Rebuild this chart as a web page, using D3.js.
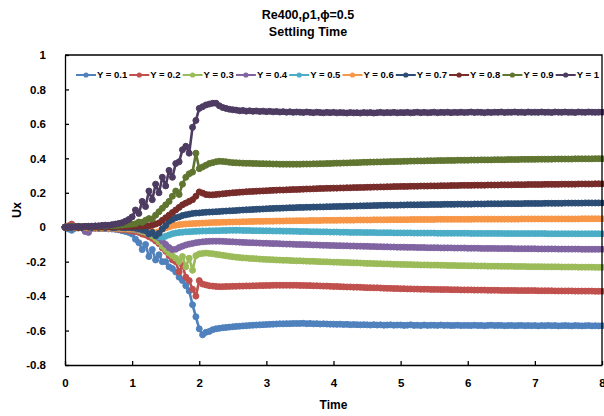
<!DOCTYPE html>
<html>
<head>
<meta charset="utf-8">
<script src="https://cdn.jsdelivr.net/npm/d3@7"></script>
<style>
  body { margin: 0; background: #fff; }
  svg { display: block; }
  text { font-family: "Liberation Sans", Arial, sans-serif; font-weight: bold; fill: #000; }
</style>
</head>
<body>
<svg id="chart" width="604" height="416"></svg>
<script>
// Streamwise velocity Ux sampled every 0.05 time units (t = 0 ... 8) at ten heights Y.
const dt = 0.05;

const ux01 = [
  0, -0.01, -0.018, -0.006, -0.004, -0.003, -0.005, -0.004, -0.006, -0.005,
  -0.006, -0.008, -0.007, -0.009, -0.01, -0.012, -0.015, -0.02, -0.025, -0.03,
  -0.04, -0.07, -0.09, -0.13, -0.1, -0.17, -0.13, -0.19, -0.16, -0.2,
  -0.2, -0.23, -0.24, -0.26, -0.29, -0.31, -0.34, -0.37, -0.45, -0.52,
  -0.59, -0.625, -0.61, -0.605, -0.595, -0.59, -0.587, -0.584, -0.582, -0.58,
  -0.578, -0.576, -0.575, -0.573, -0.572, -0.57, -0.569, -0.568, -0.567, -0.566,
  -0.565, -0.564, -0.563, -0.562, -0.561, -0.561, -0.56, -0.56, -0.559, -0.559,
  -0.559, -0.558, -0.56, -0.559, -0.561, -0.56, -0.562, -0.561, -0.562, -0.563,
  -0.563, -0.564, -0.563, -0.565, -0.564, -0.566, -0.565, -0.566, -0.567, -0.566,
  -0.567, -0.568, -0.566, -0.568, -0.567, -0.569, -0.568, -0.567, -0.569, -0.568,
  -0.568, -0.57, -0.569, -0.567, -0.57, -0.569, -0.571, -0.568, -0.57, -0.569,
  -0.569, -0.57, -0.568, -0.57, -0.569, -0.571, -0.57, -0.569, -0.571, -0.57,
  -0.57, -0.571, -0.569, -0.571, -0.57, -0.572, -0.57, -0.569, -0.571, -0.57,
  -0.57, -0.572, -0.571, -0.57, -0.572, -0.571, -0.57, -0.572, -0.571, -0.572,
  -0.571, -0.573, -0.571, -0.572, -0.57, -0.572, -0.571, -0.573, -0.572, -0.571,
  -0.572, -0.573, -0.571, -0.572, -0.573, -0.572, -0.571, -0.573, -0.572, -0.573,
  -0.572
];

const ux02 = [
  0, 0.008, 0.018, 0.004, -0.002, -0.004, -0.003, -0.005, -0.004, -0.006,
  -0.005, -0.007, -0.006, -0.008, -0.009, -0.01, -0.012, -0.014, -0.016, -0.02,
  -0.022, -0.025, -0.03, -0.04, -0.045, -0.055, -0.065, -0.08, -0.095, -0.12,
  -0.14, -0.165, -0.19, -0.2, -0.26, -0.22, -0.29, -0.31, -0.36, -0.4,
  -0.31, -0.33, -0.335, -0.34, -0.342, -0.344, -0.345, -0.345, -0.344, -0.344,
  -0.343, -0.343, -0.342, -0.342, -0.341, -0.341, -0.34, -0.34, -0.339, -0.339,
  -0.338, -0.338, -0.337, -0.337, -0.337, -0.337, -0.337, -0.337, -0.337, -0.337,
  -0.338, -0.338, -0.339, -0.339, -0.34, -0.34, -0.341, -0.342, -0.342, -0.343,
  -0.344, -0.344, -0.345, -0.346, -0.347, -0.347, -0.348, -0.348, -0.349, -0.35,
  -0.351, -0.351, -0.352, -0.352, -0.353, -0.354, -0.355, -0.355, -0.356, -0.356,
  -0.357, -0.357, -0.358, -0.358, -0.359, -0.359, -0.36, -0.36, -0.36, -0.361,
  -0.361, -0.361, -0.362, -0.362, -0.362, -0.363, -0.363, -0.363, -0.364, -0.364,
  -0.364, -0.364, -0.365, -0.365, -0.365, -0.365, -0.366, -0.366, -0.366, -0.366,
  -0.367, -0.367, -0.367, -0.367, -0.367, -0.368, -0.368, -0.368, -0.368, -0.368,
  -0.368, -0.369, -0.369, -0.369, -0.369, -0.369, -0.37, -0.37, -0.37, -0.37,
  -0.37, -0.37, -0.371, -0.371, -0.371, -0.371, -0.371, -0.371, -0.372, -0.372,
  -0.372
];

const ux03 = [
  0, -0.003, 0.001, -0.002, -0.004, -0.002, -0.005, -0.004, -0.006, -0.005,
  -0.005, -0.007, -0.006, -0.008, -0.007, -0.009, -0.008, -0.01, -0.011, -0.012,
  -0.012, -0.015, -0.02, -0.025, -0.03, -0.04, -0.05, -0.065, -0.085, -0.11,
  -0.13, -0.15, -0.165, -0.18, -0.2, -0.17, -0.23, -0.18, -0.25, -0.165,
  -0.155, -0.152, -0.15, -0.152, -0.154, -0.157, -0.16, -0.163, -0.166, -0.169,
  -0.172, -0.174, -0.176, -0.178, -0.179, -0.181, -0.182, -0.183, -0.185, -0.186,
  -0.187, -0.188, -0.189, -0.19, -0.191, -0.192, -0.192, -0.193, -0.194, -0.195,
  -0.195, -0.196, -0.197, -0.198, -0.198, -0.199, -0.2, -0.201, -0.201, -0.202,
  -0.203, -0.203, -0.204, -0.205, -0.205, -0.206, -0.207, -0.207, -0.208, -0.209,
  -0.21, -0.21, -0.211, -0.212, -0.212, -0.213, -0.213, -0.214, -0.215, -0.215,
  -0.216, -0.216, -0.217, -0.217, -0.218, -0.218, -0.219, -0.219, -0.219, -0.22,
  -0.22, -0.22, -0.221, -0.221, -0.222, -0.222, -0.222, -0.223, -0.223, -0.223,
  -0.224, -0.224, -0.224, -0.225, -0.225, -0.225, -0.226, -0.226, -0.226, -0.226,
  -0.227, -0.227, -0.227, -0.227, -0.228, -0.228, -0.228, -0.228, -0.229, -0.229,
  -0.229, -0.229, -0.229, -0.23, -0.23, -0.23, -0.23, -0.23, -0.231, -0.231,
  -0.231, -0.231, -0.231, -0.232, -0.232, -0.232, -0.232, -0.232, -0.233, -0.233,
  -0.233
];

const ux04 = [
  0, -0.002, 0.001, -0.003, -0.001, -0.004, -0.025, -0.03, -0.006, -0.005,
  -0.006, -0.005, -0.007, -0.006, -0.008, -0.007, -0.009, -0.008, -0.01, -0.011,
  -0.01, -0.012, -0.015, -0.018, -0.022, -0.028, -0.035, -0.045, -0.06, -0.08,
  -0.1, -0.118, -0.13, -0.128, -0.118, -0.11, -0.103, -0.098, -0.094, -0.09,
  -0.087, -0.085, -0.083, -0.082, -0.081, -0.081, -0.081, -0.082, -0.083, -0.084,
  -0.085, -0.086, -0.087, -0.088, -0.089, -0.09, -0.09, -0.091, -0.092, -0.093,
  -0.093, -0.094, -0.095, -0.095, -0.096, -0.097, -0.098, -0.098, -0.099, -0.1,
  -0.1, -0.101, -0.101, -0.102, -0.103, -0.103, -0.104, -0.105, -0.105, -0.106,
  -0.106, -0.107, -0.107, -0.108, -0.108, -0.109, -0.109, -0.11, -0.11, -0.111,
  -0.111, -0.112, -0.112, -0.113, -0.113, -0.114, -0.114, -0.115, -0.115, -0.116,
  -0.116, -0.116, -0.117, -0.117, -0.117, -0.118, -0.118, -0.118, -0.119, -0.119,
  -0.119, -0.119, -0.12, -0.12, -0.12, -0.12, -0.121, -0.121, -0.121, -0.121,
  -0.122, -0.122, -0.122, -0.122, -0.123, -0.123, -0.123, -0.123, -0.123, -0.124,
  -0.124, -0.124, -0.124, -0.124, -0.125, -0.125, -0.125, -0.125, -0.125, -0.125,
  -0.125, -0.126, -0.126, -0.126, -0.126, -0.126, -0.126, -0.127, -0.127, -0.127,
  -0.127, -0.127, -0.127, -0.127, -0.128, -0.128, -0.128, -0.128, -0.128, -0.128,
  -0.128
];

const ux05 = [
  0, 0.001, -0.002, 0.002, -0.001, -0.003, -0.001, -0.003, -0.002, -0.004,
  -0.003, -0.004, -0.003, -0.005, -0.004, -0.006, -0.005, -0.007, -0.006, -0.008,
  -0.008, -0.01, -0.012, -0.015, -0.02, -0.025, -0.035, -0.045, -0.055, -0.058,
  -0.052, -0.045, -0.038, -0.034, -0.031, -0.029, -0.027, -0.026, -0.025, -0.024,
  -0.023, -0.022, -0.022, -0.021, -0.021, -0.02, -0.02, -0.019, -0.019, -0.018,
  -0.018, -0.018, -0.018, -0.019, -0.019, -0.019, -0.02, -0.02, -0.02, -0.021,
  -0.021, -0.021, -0.022, -0.022, -0.022, -0.023, -0.023, -0.023, -0.024, -0.024,
  -0.025, -0.025, -0.025, -0.026, -0.026, -0.026, -0.027, -0.027, -0.027, -0.028,
  -0.028, -0.028, -0.029, -0.029, -0.029, -0.03, -0.03, -0.03, -0.03, -0.031,
  -0.031, -0.031, -0.031, -0.032, -0.032, -0.032, -0.032, -0.032, -0.033, -0.033,
  -0.033, -0.033, -0.033, -0.033, -0.034, -0.034, -0.034, -0.034, -0.034, -0.034,
  -0.034, -0.035, -0.035, -0.035, -0.035, -0.035, -0.035, -0.035, -0.035, -0.035,
  -0.035, -0.036, -0.036, -0.036, -0.036, -0.036, -0.036, -0.036, -0.036, -0.036,
  -0.036, -0.037, -0.037, -0.037, -0.037, -0.037, -0.037, -0.037, -0.037, -0.037,
  -0.037, -0.037, -0.037, -0.037, -0.038, -0.038, -0.038, -0.038, -0.038, -0.038,
  -0.038, -0.038, -0.038, -0.038, -0.038, -0.038, -0.038, -0.038, -0.038, -0.038,
  -0.038
];

const ux06 = [
  0, -0.002, 0.002, -0.003, 0.001, -0.003, -0.001, -0.004, -0.002, -0.004,
  -0.003, -0.005, -0.004, -0.006, -0.005, -0.007, -0.006, -0.008, -0.007, -0.009,
  -0.008, -0.01, -0.012, -0.015, -0.018, -0.02, -0.025, -0.03, -0.025, -0.012,
  -0.004, 0.002, 0.008, 0.012, 0.015, 0.017, 0.019, 0.02, 0.021, 0.022,
  0.023, 0.024, 0.025, 0.026, 0.027, 0.028, 0.028, 0.029, 0.029, 0.03,
  0.03, 0.031, 0.031, 0.032, 0.032, 0.033, 0.033, 0.034, 0.034, 0.034,
  0.035, 0.035, 0.035, 0.036, 0.036, 0.036, 0.037, 0.037, 0.037, 0.038,
  0.038, 0.038, 0.038, 0.039, 0.039, 0.039, 0.039, 0.04, 0.04, 0.04,
  0.04, 0.04, 0.041, 0.041, 0.041, 0.041, 0.041, 0.042, 0.042, 0.042,
  0.042, 0.042, 0.043, 0.043, 0.043, 0.043, 0.043, 0.044, 0.044, 0.044,
  0.044, 0.044, 0.044, 0.045, 0.045, 0.045, 0.045, 0.045, 0.045, 0.045,
  0.045, 0.046, 0.046, 0.046, 0.046, 0.046, 0.046, 0.046, 0.046, 0.046,
  0.046, 0.046, 0.047, 0.047, 0.047, 0.047, 0.047, 0.047, 0.047, 0.047,
  0.047, 0.047, 0.047, 0.047, 0.047, 0.047, 0.048, 0.048, 0.048, 0.048,
  0.048, 0.048, 0.048, 0.048, 0.048, 0.048, 0.048, 0.048, 0.048, 0.048,
  0.048, 0.048, 0.048, 0.048, 0.049, 0.049, 0.049, 0.049, 0.049, 0.049,
  0.049
];

const ux07 = [
  0, 0.002, -0.002, 0.003, 0.001, -0.002, 0.002, 0.001, -0.002, 0.002,
  -0.001, 0.001, -0.002, 0.002, -0.001, -0.003, 0.001, -0.002, -0.003, -0.002,
  -0.004, -0.006, -0.01, -0.015, -0.02, -0.04, -0.03, -0.05, -0.035, -0.01,
  0.01, 0.035, 0.045, 0.055, 0.06, 0.068, 0.072, 0.076, 0.08, 0.082,
  0.083, 0.085, 0.087, 0.088, 0.089, 0.09, 0.091, 0.093, 0.094, 0.095,
  0.096, 0.097, 0.099, 0.1, 0.101, 0.102, 0.103, 0.104, 0.105, 0.106,
  0.107, 0.108, 0.109, 0.11, 0.11, 0.111, 0.112, 0.113, 0.113, 0.114,
  0.115, 0.115, 0.116, 0.116, 0.117, 0.117, 0.118, 0.118, 0.119, 0.119,
  0.12, 0.12, 0.121, 0.121, 0.122, 0.122, 0.123, 0.123, 0.124, 0.124,
  0.125, 0.125, 0.126, 0.126, 0.127, 0.127, 0.128, 0.128, 0.128, 0.128,
  0.129, 0.129, 0.13, 0.13, 0.13, 0.13, 0.131, 0.131, 0.131, 0.132,
  0.132, 0.132, 0.132, 0.133, 0.133, 0.133, 0.133, 0.134, 0.134, 0.134,
  0.134, 0.134, 0.135, 0.135, 0.135, 0.135, 0.136, 0.136, 0.136, 0.136,
  0.136, 0.137, 0.137, 0.137, 0.137, 0.137, 0.137, 0.138, 0.138, 0.138,
  0.138, 0.138, 0.138, 0.139, 0.139, 0.139, 0.139, 0.139, 0.139, 0.14,
  0.14, 0.14, 0.14, 0.14, 0.14, 0.141, 0.141, 0.141, 0.141, 0.141,
  0.141
];

const ux08 = [
  0, -0.002, 0.002, 0.001, -0.002, 0.002, 0.003, 0.001, 0.003, 0.002,
  0.002, 0.004, 0.003, 0.004, 0.003, 0.005, 0.004, 0.005, 0.004, 0.006,
  0.005, 0.005, 0.008, 0.006, 0.01, 0.008, 0.012, 0.018, 0.025, 0.04,
  0.055, 0.07, 0.085, 0.1, 0.115, 0.13, 0.14, 0.15, 0.16, 0.18,
  0.205, 0.198, 0.19, 0.188, 0.188, 0.19, 0.192, 0.194, 0.196, 0.198,
  0.2, 0.201, 0.203, 0.204, 0.206, 0.207, 0.208, 0.209, 0.21, 0.211,
  0.212, 0.213, 0.214, 0.215, 0.216, 0.216, 0.217, 0.218, 0.219, 0.219,
  0.22, 0.221, 0.222, 0.222, 0.223, 0.224, 0.225, 0.225, 0.226, 0.226,
  0.227, 0.227, 0.228, 0.228, 0.229, 0.229, 0.23, 0.23, 0.231, 0.231,
  0.232, 0.232, 0.233, 0.233, 0.234, 0.234, 0.235, 0.235, 0.236, 0.236,
  0.237, 0.237, 0.237, 0.238, 0.238, 0.238, 0.239, 0.239, 0.239, 0.24,
  0.24, 0.24, 0.241, 0.241, 0.241, 0.242, 0.242, 0.242, 0.243, 0.243,
  0.243, 0.243, 0.244, 0.244, 0.244, 0.244, 0.245, 0.245, 0.245, 0.245,
  0.246, 0.246, 0.246, 0.246, 0.247, 0.247, 0.247, 0.247, 0.248, 0.248,
  0.248, 0.248, 0.248, 0.249, 0.249, 0.249, 0.249, 0.249, 0.25, 0.25,
  0.25, 0.25, 0.25, 0.251, 0.251, 0.251, 0.251, 0.251, 0.252, 0.252,
  0.252
];

const ux09 = [
  0, 0.002, 0.004, 0.003, 0.005, 0.003, 0.004, 0.006, 0.005, 0.007,
  0.006, 0.008, 0.007, 0.009, 0.01, 0.009, 0.011, 0.012, 0.014, 0.016,
  0.018, 0.02, 0.03, 0.028, 0.04, 0.05, 0.048, 0.07, 0.09, 0.11,
  0.13, 0.15, 0.18, 0.21, 0.19, 0.25, 0.29, 0.31, 0.32, 0.43,
  0.34, 0.35, 0.36, 0.37, 0.375, 0.38, 0.383, 0.382, 0.38, 0.377,
  0.375, 0.374, 0.373, 0.372, 0.371, 0.371, 0.37, 0.37, 0.369, 0.369,
  0.368, 0.368, 0.367, 0.367, 0.366, 0.366, 0.366, 0.366, 0.366, 0.366,
  0.366, 0.367, 0.367, 0.367, 0.368, 0.368, 0.369, 0.369, 0.37, 0.37,
  0.371, 0.372, 0.372, 0.373, 0.373, 0.374, 0.375, 0.375, 0.376, 0.377,
  0.377, 0.378, 0.378, 0.379, 0.379, 0.38, 0.38, 0.381, 0.381, 0.382,
  0.382, 0.383, 0.383, 0.384, 0.384, 0.385, 0.385, 0.385, 0.386, 0.386,
  0.386, 0.387, 0.387, 0.387, 0.388, 0.388, 0.388, 0.389, 0.389, 0.389,
  0.389, 0.39, 0.39, 0.39, 0.391, 0.391, 0.391, 0.391, 0.392, 0.392,
  0.392, 0.392, 0.393, 0.393, 0.393, 0.393, 0.394, 0.394, 0.394, 0.394,
  0.394, 0.395, 0.395, 0.395, 0.395, 0.395, 0.396, 0.396, 0.396, 0.396,
  0.396, 0.396, 0.397, 0.397, 0.397, 0.397, 0.397, 0.397, 0.398, 0.398,
  0.398
];

const ux10 = [
  0, 0.002, 0.003, 0.002, 0.004, 0.003, 0.005, 0.004, 0.006, 0.007,
  0.008, 0.01, 0.012, 0.011, 0.015, 0.018, 0.022, 0.026, 0.035, 0.045,
  0.06, 0.1, 0.08, 0.15, 0.12, 0.21, 0.16, 0.25, 0.2, 0.29,
  0.24, 0.33, 0.29, 0.37, 0.38, 0.45, 0.47, 0.43, 0.58, 0.62,
  0.69, 0.7, 0.71, 0.715, 0.72, 0.72, 0.705, 0.695, 0.69, 0.685,
  0.682, 0.68, 0.676, 0.678, 0.674, 0.676, 0.673, 0.675, 0.672, 0.674,
  0.671, 0.673, 0.67, 0.672, 0.669, 0.671, 0.668, 0.67, 0.667, 0.669,
  0.668, 0.666, 0.669, 0.667, 0.665, 0.668, 0.666, 0.664, 0.667, 0.665,
  0.667, 0.664, 0.666, 0.665, 0.663, 0.666, 0.664, 0.665, 0.663, 0.666,
  0.664, 0.666, 0.663, 0.665, 0.667, 0.664, 0.666, 0.665, 0.667, 0.664,
  0.666, 0.665, 0.667, 0.664, 0.666, 0.668, 0.665, 0.667, 0.665, 0.666,
  0.668, 0.665, 0.667, 0.666, 0.668, 0.665, 0.667, 0.666, 0.668, 0.666,
  0.667, 0.669, 0.666, 0.668, 0.667, 0.665, 0.668, 0.666, 0.668, 0.667,
  0.669, 0.666, 0.668, 0.667, 0.669, 0.667, 0.668, 0.666, 0.669, 0.667,
  0.668, 0.667, 0.669, 0.667, 0.668, 0.666, 0.669, 0.668, 0.667, 0.669,
  0.667, 0.668, 0.666, 0.669, 0.668, 0.667, 0.669, 0.668, 0.667, 0.668,
  0.668
];

const seriesValues = [ux01, ux02, ux03, ux04, ux05, ux06, ux07, ux08, ux09, ux10];
const seriesNames = ["Y = 0.1", "Y = 0.2", "Y = 0.3", "Y = 0.4", "Y = 0.5",
                     "Y = 0.6", "Y = 0.7", "Y = 0.8", "Y = 0.9", "Y = 1"];
const seriesColors = ["#4F81BD", "#C0504D", "#9BBB59", "#8064A2", "#4BACC6",
                      "#F79646", "#2C4D75", "#772C2A", "#5F7530", "#4D3B62"];
const xTicks = [0, 1, 2, 3, 4, 5, 6, 7, 8];
const yTicks = [-0.8, -0.6, -0.4, -0.2, 0, 0.2, 0.4, 0.6, 0.8, 1];
const titleLines = ["Re400,\u03C11,\u03D5=0.5", "Settling Time"];
const xTitle = "Time";
const yTitle = "Ux";

const svg = d3.select("#chart");
const plot = { left: 65, right: 602, top: 55, bottom: 365 };

const x = d3.scaleLinear().domain([0, 8]).range([plot.left, plot.right]);
const y = d3.scaleLinear().domain([-0.8, 1]).range([plot.bottom, plot.top]);

// Title
svg.append("g").selectAll("text").data(titleLines).join("text")
  .attr("x", 308).attr("y", (d, i) => 19 + i * 17)
  .attr("text-anchor", "middle").style("font-size", "12.5px")
  .text(d => d);

// Axes with inward ticks
const fmt = d => String(+d.toFixed(1));
const yAxis = svg.append("g").attr("transform", `translate(${plot.left},0)`)
  .call(d3.axisLeft(y).tickValues(yTicks).tickSizeInner(-4).tickSizeOuter(0)
    .tickPadding(19).tickFormat(fmt));
const xAxis = svg.append("g").attr("transform", `translate(0,${plot.bottom})`)
  .call(d3.axisBottom(x).tickValues(xTicks).tickSizeInner(-4).tickSizeOuter(0)
    .tickPadding(14).tickFormat(fmt));
[yAxis, xAxis].forEach(g => {
  g.select(".domain").attr("stroke", "#000").attr("stroke-width", 1.3);
  g.selectAll(".tick line").attr("stroke", "#000").attr("stroke-width", 1.3);
  g.selectAll(".tick text").style("font-size", "11.5px");
  g.attr("font-family", null).attr("font-size", null);
});

// Axis titles
svg.append("text").attr("x", (plot.left + plot.right) / 2).attr("y", 409)
  .attr("text-anchor", "middle").style("font-size", "12px").text(xTitle);
svg.append("text").attr("transform", `translate(21,${(plot.top + plot.bottom) / 2}) rotate(-90)`)
  .attr("text-anchor", "middle").style("font-size", "12.5px").text(yTitle);

// Series: line plus circle markers, drawn in order so Y = 1 ends on top
const line = d3.line().x((d, i) => x(i * dt)).y(d => y(d));
const seriesG = svg.append("g");
seriesValues.forEach((vals, k) => {
  const g = seriesG.append("g");
  g.append("path").attr("d", line(vals)).attr("fill", "none")
    .attr("stroke", seriesColors[k]).attr("stroke-width", 2.6)
    .attr("stroke-linejoin", "round");
  g.selectAll("circle").data(vals).join("circle")
    .attr("cx", (d, i) => x(i * dt)).attr("cy", d => y(d)).attr("r", 3)
    .attr("fill", seriesColors[k]).attr("stroke", seriesColors[k]).attr("stroke-width", 1);
});

// Plot frame, top and right sides
svg.append("path")
  .attr("d", `M${plot.left},${plot.top}H${plot.right}V${plot.bottom}`)
  .attr("fill", "none").attr("stroke", "#000").attr("stroke-width", 1.3);

// Legend in a single row inside the plot area
const legend = svg.append("g").selectAll("g").data(seriesNames).join("g")
  .attr("transform", (d, i) => `translate(${76 + i * 53.3},75)`);
legend.append("line").attr("x1", 0).attr("x2", 20).attr("y1", 0).attr("y2", 0)
  .attr("stroke", (d, i) => seriesColors[i]).attr("stroke-width", 2);
legend.append("circle").attr("cx", 10).attr("cy", 0).attr("r", 2.6)
  .attr("fill", (d, i) => seriesColors[i]);
legend.append("text").attr("x", 21).attr("y", 0).attr("dy", "0.35em")
  .style("font-size", "9.5px").text(d => d);
</script>
</body>
</html>
